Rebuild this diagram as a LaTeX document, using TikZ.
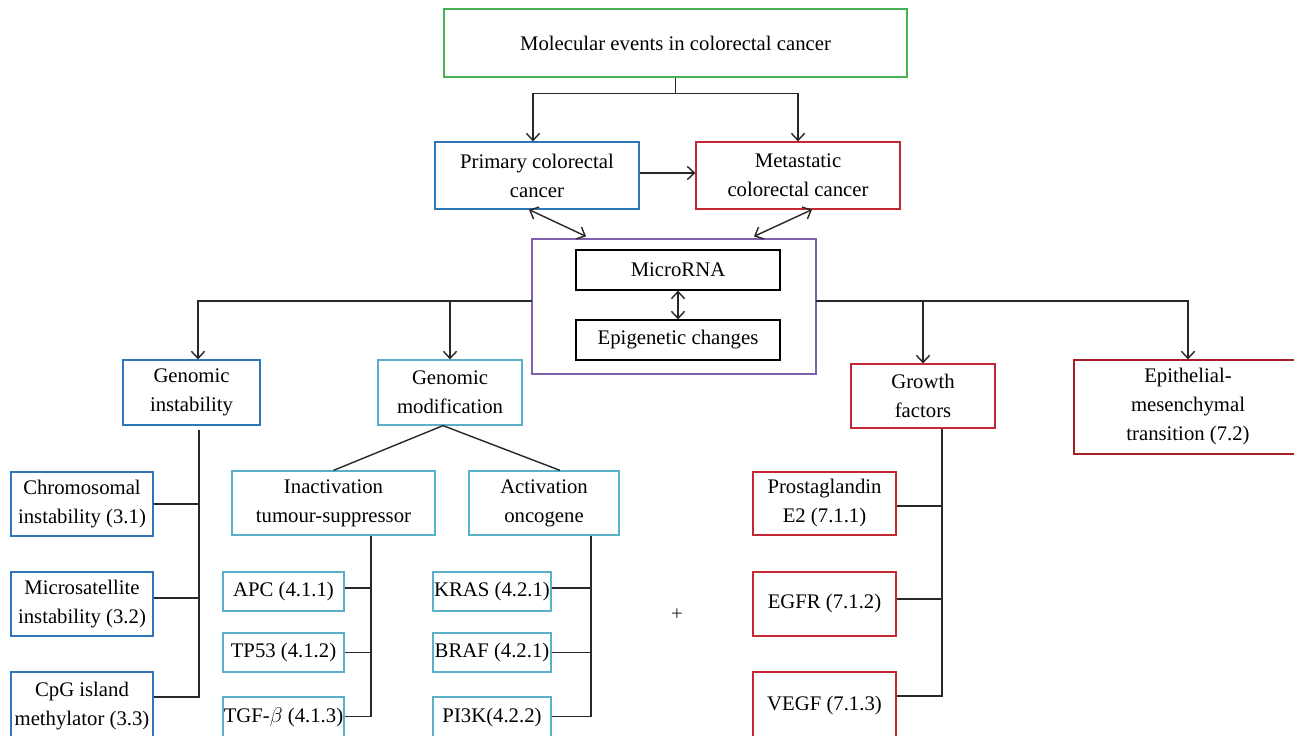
\documentclass[tikz,border=0pt]{standalone}
\usepackage{fontspec}
\setmainfont{Liberation Serif}
\usetikzlibrary{arrows.meta}
\definecolor{cgreen}{RGB}{70,178,84}
\definecolor{cblue}{RGB}{46,117,186}
\definecolor{ccyan}{RGB}{90,176,200}
\definecolor{cred}{RGB}{196,40,50}
\definecolor{cdred}{RGB}{165,30,40}
\definecolor{cpurple}{RGB}{128,96,170}
\definecolor{cline}{RGB}{40,40,40}
\tikzset{
  bx/.style n args={3}{draw=#1, line width=0.7pt, minimum width=#2*0.02cm, minimum height=#3*0.02cm,
     inner sep=0pt, align=center, font=\fontsize{11.8}{16.5}\selectfont, text=black},
  conn/.style={draw=cline, line width=0.8pt},
  arr/.style={conn, -{Straight Barb[length=4pt,width=7.5pt]}},
  darr/.style={conn, {Straight Barb[length=4pt,width=7.5pt]}-{Straight Barb[length=4pt,width=7.5pt]}}
}
\begin{document}
\begin{tikzpicture}[x=0.02cm,y=-0.02cm]
\path[use as bounding box, fill=white] (0,0) rectangle (1294,736);
% top level
\node[bx={cgreen}{463}{68}] (top) at (675.5,43) {Molecular events in colorectal cancer};
\node[bx={cblue}{204}{67}] (prim) at (537,175.5) {Primary colorectal\\cancer};
\node[bx={cred}{204}{67}] (meta) at (798,175.5) {Metastatic\\colorectal cancer};
\node[bx={cpurple}{284}{135}] (purp) at (674,306.5) {};
\node[bx={black}{204}{40}] (mirna) at (678,270) {MicroRNA};
\node[bx={black}{204}{40}] (epi) at (678,340) {Epigenetic changes};
% second level
\node[bx={cblue}{137}{65}] (gi) at (191.5,392.5) {Genomic\\instability};
\node[bx={ccyan}{144}{65}] (gm) at (450,392.5) {Genomic\\modification};
\node[bx={cred}{144}{64}] (gf) at (923,396) {Growth\\factors};
\node[bx={cdred}{228}{94}] (emt) at (1188,407) {Epithelial-\\mesenchymal\\transition (7.2)};
% genomic instability children
\node[bx={cblue}{142}{64}] (chr) at (82,504) {Chromosomal\\instability (3.1)};
\node[bx={cblue}{142}{64}] (mic) at (82,604) {Microsatellite\\instability (3.2)};
\node[bx={cblue}{142}{68}] (cpg) at (82,706) {CpG island\\methylator (3.3)};
% genomic modification children
\node[bx={ccyan}{203}{64}] (inact) at (333.5,503) {Inactivation\\tumour-suppressor};
\node[bx={ccyan}{150}{64}] (act) at (544,503) {Activation\\oncogene};
\node[bx={ccyan}{121}{39}] (apc) at (283.5,591.5) {APC (4.1.1)};
\node[bx={ccyan}{121}{39}] (tp53) at (283.5,652.5) {TP53 (4.1.2)};
\node[bx={ccyan}{121}{41}] (tgf) at (283.5,717.5) {TGF-$\beta$ (4.1.3)};
\node[bx={ccyan}{118}{39}] (kras) at (492,591.5) {KRAS (4.2.1)};
\node[bx={ccyan}{118}{39}] (braf) at (492,652.5) {BRAF (4.2.1)};
\node[bx={ccyan}{118}{41}] (pi3k) at (492,717.5) {PI3K(4.2.2)};
% growth factor children
\node[bx={cred}{143}{63}] (prost) at (824.5,503.5) {Prostaglandin\\E2 (7.1.1)};
\node[bx={cred}{143}{64}] (egfr) at (824.5,604) {EGFR (7.1.2)};
\node[bx={cred}{143}{68}] (vegf) at (824.5,706) {VEGF (7.1.3)};
\node[font=\fontsize{11.8}{14}\selectfont, text=cline, inner sep=0pt] (plus) at (677,615) {+};
% top connectors
\coordinate (tj) at ([yshift=-0.32cm]top.south);
\draw[conn] (top.south) -- (tj);
\draw[arr] (tj) -| ([xshift=-0.08cm]prim.north);
\draw[arr] (tj) -| (meta.north);
\draw[arr] ([yshift=0.05cm]prim.east) -- ([yshift=0.05cm]meta.west);
\draw[darr] ([xshift=-0.16cm]prim.south) -- ([xshift=-1.76cm,yshift=0.04cm]purp.north);
\draw[darr] ([xshift=0.28cm]meta.south) -- ([xshift=1.6cm,yshift=0.04cm]purp.north);
\draw[darr] (mirna.south) -- (epi.north);
% horizontal distribution line
\coordinate (hl) at (532,301);
\coordinate (hr) at (816,301);
\draw[arr] (hl) -| ([xshift=0.13cm]gi.north);
\draw[arr] (gm.north |- hl) -- (gm.north);
\draw[arr] (gf.north |- hr) -- (gf.north);
\draw[arr] (hr) -| (emt.north);
% genomic instability tree
\coordinate (gis) at ([xshift=0.15cm,yshift=-0.08cm]gi.south);
\draw[conn] (gis) |- ([yshift=0.18cm]cpg.east);
\draw[conn] (chr.east) -- (chr.east -| gis);
\draw[conn] ([yshift=0.12cm]mic.east) coordinate (m1) -- (m1 -| gis);
% genomic modification tree
\coordinate (gma) at ([xshift=-0.14cm]gm.south);
\draw[conn] (gma) -- (inact.north);
\draw[conn] (gma) -- ([xshift=0.32cm]act.north);
\coordinate (ins) at ([xshift=0.75cm]inact.south);
\draw[conn] (ins) |- ([yshift=0.02cm]tgf.east);
\draw[conn] ([yshift=0.07cm]apc.east) coordinate (a1) -- (a1 -| ins);
\draw[conn] (tp53.east) -- (tp53.east -| ins);
\coordinate (acs) at ([xshift=0.94cm]act.south);
\draw[conn] (acs) |- ([yshift=0.02cm]pi3k.east);
\draw[conn] ([yshift=0.07cm]kras.east) coordinate (k1) -- (k1 -| acs);
\draw[conn] (braf.east) -- (braf.east -| acs);
% growth factors tree
\coordinate (gfs) at ([xshift=0.38cm]gf.south);
\draw[conn] (gfs) |- ([yshift=0.2cm]vegf.east);
\draw[conn] ([yshift=-0.05cm]prost.east) coordinate (p1) -- (p1 -| gfs);
\draw[conn] ([yshift=0.1cm]egfr.east) coordinate (e1) -- (e1 -| gfs);
\end{tikzpicture}
\end{document}
